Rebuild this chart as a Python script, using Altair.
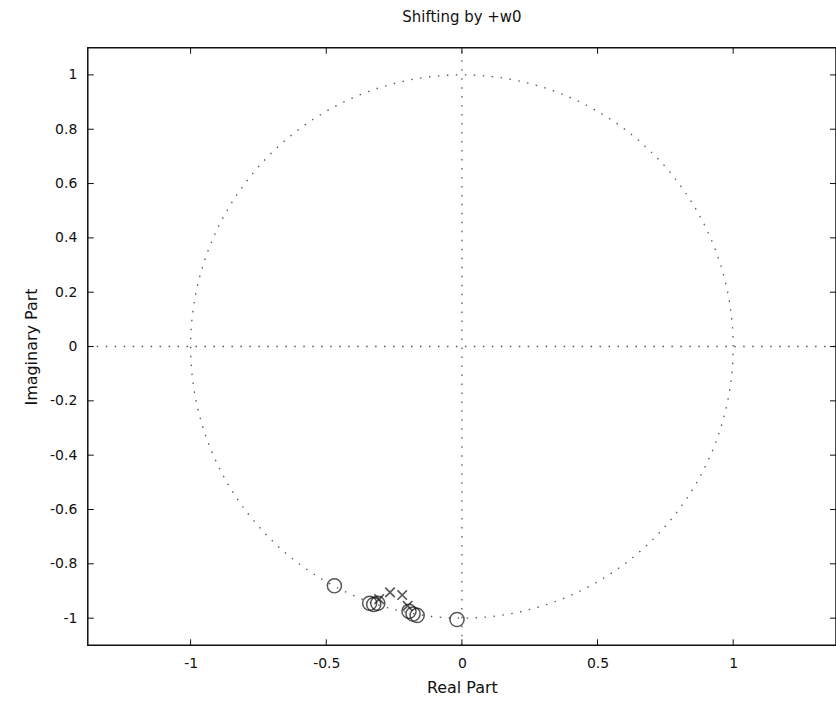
import altair as alt
import pandas as pd

# Zeros and poles of the shifted filter (real, imaginary)
zeros_re = [-0.47, -0.34, -0.325, -0.31, -0.195, -0.18, -0.165, -0.018]
zeros_im = [-0.881, -0.945, -0.95, -0.945, -0.975, -0.985, -0.99, -1.005]
poles_re = [-0.305, -0.265, -0.22, -0.2]
poles_im = [-0.93, -0.905, -0.915, -0.955]

x_ticks = [-1, -0.5, 0, 0.5, 1]
y_ticks = [-1, -0.8, -0.6, -0.4, -0.2, 0, 0.2, 0.4, 0.6, 0.8, 1]

X_DOM = [-1.379, 1.379]
Y_DOM = [-1.1, 1.1]
W, H = 750, 599

font = "DejaVu Sans"

xs = alt.Scale(domain=X_DOM, nice=False, zero=False)
ys = alt.Scale(domain=Y_DOM, nice=False, zero=False)

zeros = pd.DataFrame({"re": zeros_re, "im": zeros_im})
poles = pd.DataFrame({"re": poles_re, "im": poles_im})
xt = pd.DataFrame({"v": x_ticks})
yt = pd.DataFrame({"v": y_ticks})
h_axis = pd.DataFrame({"re": X_DOM, "im": [0, 0]})
v_axis = pd.DataFrame({"re": [0, 0], "im": Y_DOM})

dotted = dict(color="#555555", strokeWidth=1.3, strokeDash=[1.5, 7.5])

# Unit circle, generated from an angle sequence
circle = (
    alt.Chart(alt.sequence(0, 361, 1, as_="deg"))
    .transform_calculate(re="cos(datum.deg*PI/180)", im="sin(datum.deg*PI/180)")
    .mark_line(**dotted)
    .encode(
        x=alt.X("re:Q", scale=xs,
                axis=alt.Axis(values=x_ticks, labelExpr="toString(datum.value)",
                              ticks=False, domain=False, grid=False,
                              labelFont=font, labelFontSize=14, labelColor="#111",
                              labelPadding=11, title="Real Part",
                              titleFont=font, titleFontSize=16, titleFontWeight="normal",
                              titleColor="#111", titlePadding=9)),
        y=alt.Y("im:Q", scale=ys,
                axis=alt.Axis(values=y_ticks, labelExpr="toString(datum.value)",
                              ticks=False, domain=False, grid=False,
                              labelFont=font, labelFontSize=14, labelColor="#111",
                              labelPadding=11, title="Imaginary Part",
                              titleFont=font, titleFontSize=16, titleFontWeight="normal",
                              titleColor="#111", titlePadding=10)),
        order="deg:Q",
    )
)

hline = alt.Chart(h_axis).mark_line(**dotted).encode(
    x=alt.X("re:Q", scale=xs), y=alt.Y("im:Q", scale=ys))
vline = alt.Chart(v_axis).mark_line(**dotted).encode(
    x=alt.X("re:Q", scale=xs), y=alt.Y("im:Q", scale=ys))

# Inward tick marks on all four sides
tick_style = dict(color="#111", strokeWidth=1)
ticks_left = alt.Chart(yt).mark_rule(**tick_style).encode(
    y=alt.Y("v:Q", scale=ys), x=alt.value(0), x2=alt.value(6))
ticks_right = alt.Chart(yt).mark_rule(**tick_style).encode(
    y=alt.Y("v:Q", scale=ys), x=alt.value(W - 6), x2=alt.value(W))
ticks_bottom = alt.Chart(xt).mark_rule(**tick_style).encode(
    x=alt.X("v:Q", scale=xs), y=alt.value(H - 6), y2=alt.value(H))
ticks_top = alt.Chart(xt).mark_rule(**tick_style).encode(
    x=alt.X("v:Q", scale=xs), y=alt.value(0), y2=alt.value(6))

zero_marks = alt.Chart(zeros).mark_point(
    shape="circle", filled=False, color="#111", strokeWidth=1.5, size=200
).encode(x=alt.X("re:Q", scale=xs), y=alt.Y("im:Q", scale=ys))

pole_marks = alt.Chart(poles).mark_point(
    shape="M-1,-1L1,1M-1,1L1,-1", filled=False, color="#111", strokeWidth=1.6, size=90
).encode(x=alt.X("re:Q", scale=xs), y=alt.Y("im:Q", scale=ys))

chart = (
    alt.layer(circle, hline, vline, ticks_left, ticks_right, ticks_bottom, ticks_top,
              zero_marks, pole_marks)
    .properties(
        width=W, height=H,
        background="white",
        title=alt.TitleParams("Shifting by +w0", font=font, fontSize=15,
                              fontWeight="normal", color="#111", offset=20),
        autosize=alt.AutoSizeParams(type="none"),
        padding={"left": 88, "top": 47, "right": 0, "bottom": 63},
    )
    .configure_view(stroke="#111", strokeWidth=1.5)
)

chart.save("out.html", embed_options={"renderer": "svg", "actions": False})
